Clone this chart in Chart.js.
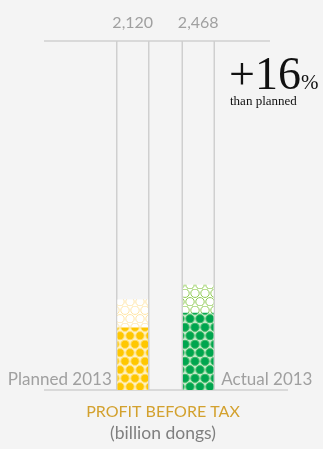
<!DOCTYPE html>
<html>
<head>
<meta charset="utf-8">
<script src="https://cdn.jsdelivr.net/npm/chart.js@4"></script>
<style>
  html, body { margin: 0; padding: 0; background: #f4f4f4; }
  #chart { display: block; }
</style>
</head>
<body>
<canvas id="chart" width="323" height="449"></canvas>
<script>
const categories = ["Planned 2013", "Actual 2013"];
const profitValues = [2120, 2468];
const solidPart = [1460, 1810];
const yMax = 8200;

const palettes = [
  { solid: "#ffc700", solidEdge: "#ffe17a", solidBg: "#fff1c2", light: "#ffe6a6" },
  { solid: "#00a54f", solidEdge: "#4cc06f", solidBg: "#bfe8c6", light: "#8fcb52" },
];

// honeycomb of circles, used as bar fill
function dots(fill, edge, bg) {
  const c = document.createElement("canvas");
  c.width = 10;
  c.height = 17;
  const g = c.getContext("2d");
  g.fillStyle = bg;
  g.fillRect(0, 0, 10, 17);
  const spots = [[5, 4.25], [0, 12.75], [10, 12.75]];
  spots.forEach(([x, y]) => {
    g.beginPath();
    g.arc(x, y, 4.2, 0, Math.PI * 2);
    g.fillStyle = fill;
    g.fill();
    g.lineWidth = 1;
    g.strokeStyle = edge;
    g.stroke();
  });
  return g.createPattern(c, "repeat");
}

const ctx = document.getElementById("chart").getContext("2d");
const solidFills = palettes.map((p) => dots(p.solid, p.solidEdge, p.solidBg));
const lightFills = palettes.map((p) => dots("#ffffff", p.light, "#ffffff"));

const tubes = {
  id: "tubes",
  beforeDatasetsDraw(chart) {
    const { ctx, chartArea } = chart;
    const meta = chart.getDatasetMeta(0);
    ctx.save();
    ctx.strokeStyle = "#cfcfcf";
    ctx.lineWidth = 1.5;
    ctx.beginPath();
    ctx.moveTo(44, chartArea.top);
    ctx.lineTo(270, chartArea.top);
    ctx.moveTo(44, chartArea.bottom);
    ctx.lineTo(288, chartArea.bottom);
    meta.data.forEach((bar) => {
      const half = bar.width / 2 + 1;
      [bar.x - half, bar.x + half].forEach((x) => {
        ctx.moveTo(x, chartArea.top);
        ctx.lineTo(x, chartArea.bottom);
      });
    });
    ctx.stroke();
    ctx.restore();
  },
  afterDraw(chart) {
    const { ctx, chartArea } = chart;
    const meta = chart.getDatasetMeta(0);
    ctx.save();
    ctx.fillStyle = "#a0a0a0";
    ctx.font = "16px Lato";
    ctx.textBaseline = "middle";
    ctx.textAlign = "center";
    meta.data.forEach((bar, i) => {
      ctx.fillText(profitValues[i].toLocaleString("en-US"), bar.x, 23);
    });
    ctx.font = "17px Lato";
    ctx.textBaseline = "alphabetic";
    const left = meta.data[0], right = meta.data[1];
    ctx.textAlign = "right";
    ctx.fillText(categories[0], left.x - left.width / 2 - 6, chartArea.bottom - 5);
    ctx.textAlign = "left";
    ctx.fillText(categories[1], right.x + right.width / 2 + 8, chartArea.bottom - 5);

    const diff = Math.round((profitValues[1] / profitValues[0] - 1) * 100);
    ctx.fillStyle = "#111";
    ctx.font = "46px 'Liberation Serif'";
    ctx.textAlign = "left";
    const big = "+" + diff;
    ctx.fillText(big, 229, 89);
    const w = ctx.measureText(big).width;
    ctx.font = "21px 'Liberation Serif'";
    ctx.fillText("%", 229 + w, 89);
    ctx.font = "13px 'Liberation Serif'";
    ctx.fillText("than planned", 230, 105);

    ctx.textAlign = "center";
    ctx.textBaseline = "middle";
    ctx.font = "16px Lato";
    ctx.fillStyle = "#d3a12e";
    ctx.fillText("PROFIT BEFORE TAX", 163, 412);
    ctx.fillStyle = "#7f7f7f";
    ctx.font = "17.5px Lato";
    ctx.fillText("(billion dongs)", 163, 433);
    ctx.restore();
  },
};

new Chart(ctx, {
  type: "bar",
  data: {
    labels: categories,
    datasets: [
      {
        label: "solid",
        data: solidPart,
        backgroundColor: solidFills,
        borderWidth: 0,
      },
      {
        label: "rest",
        data: profitValues.map((v, i) => v - solidPart[i]),
        backgroundColor: lightFills,
        borderWidth: 0,
      },
    ],
  },
  options: {
    responsive: false,
    animation: false,
    layout: { padding: { left: 100, right: 92, top: 41, bottom: 59 } },
    plugins: { legend: { display: false }, tooltip: { enabled: false } },
    scales: {
      x: { display: false, stacked: true },
      y: { display: false, stacked: true, min: 0, max: yMax },
    },
    datasets: { bar: { barThickness: 30 } },
  },
  plugins: [tubes],
});
</script>
</body>
</html>
